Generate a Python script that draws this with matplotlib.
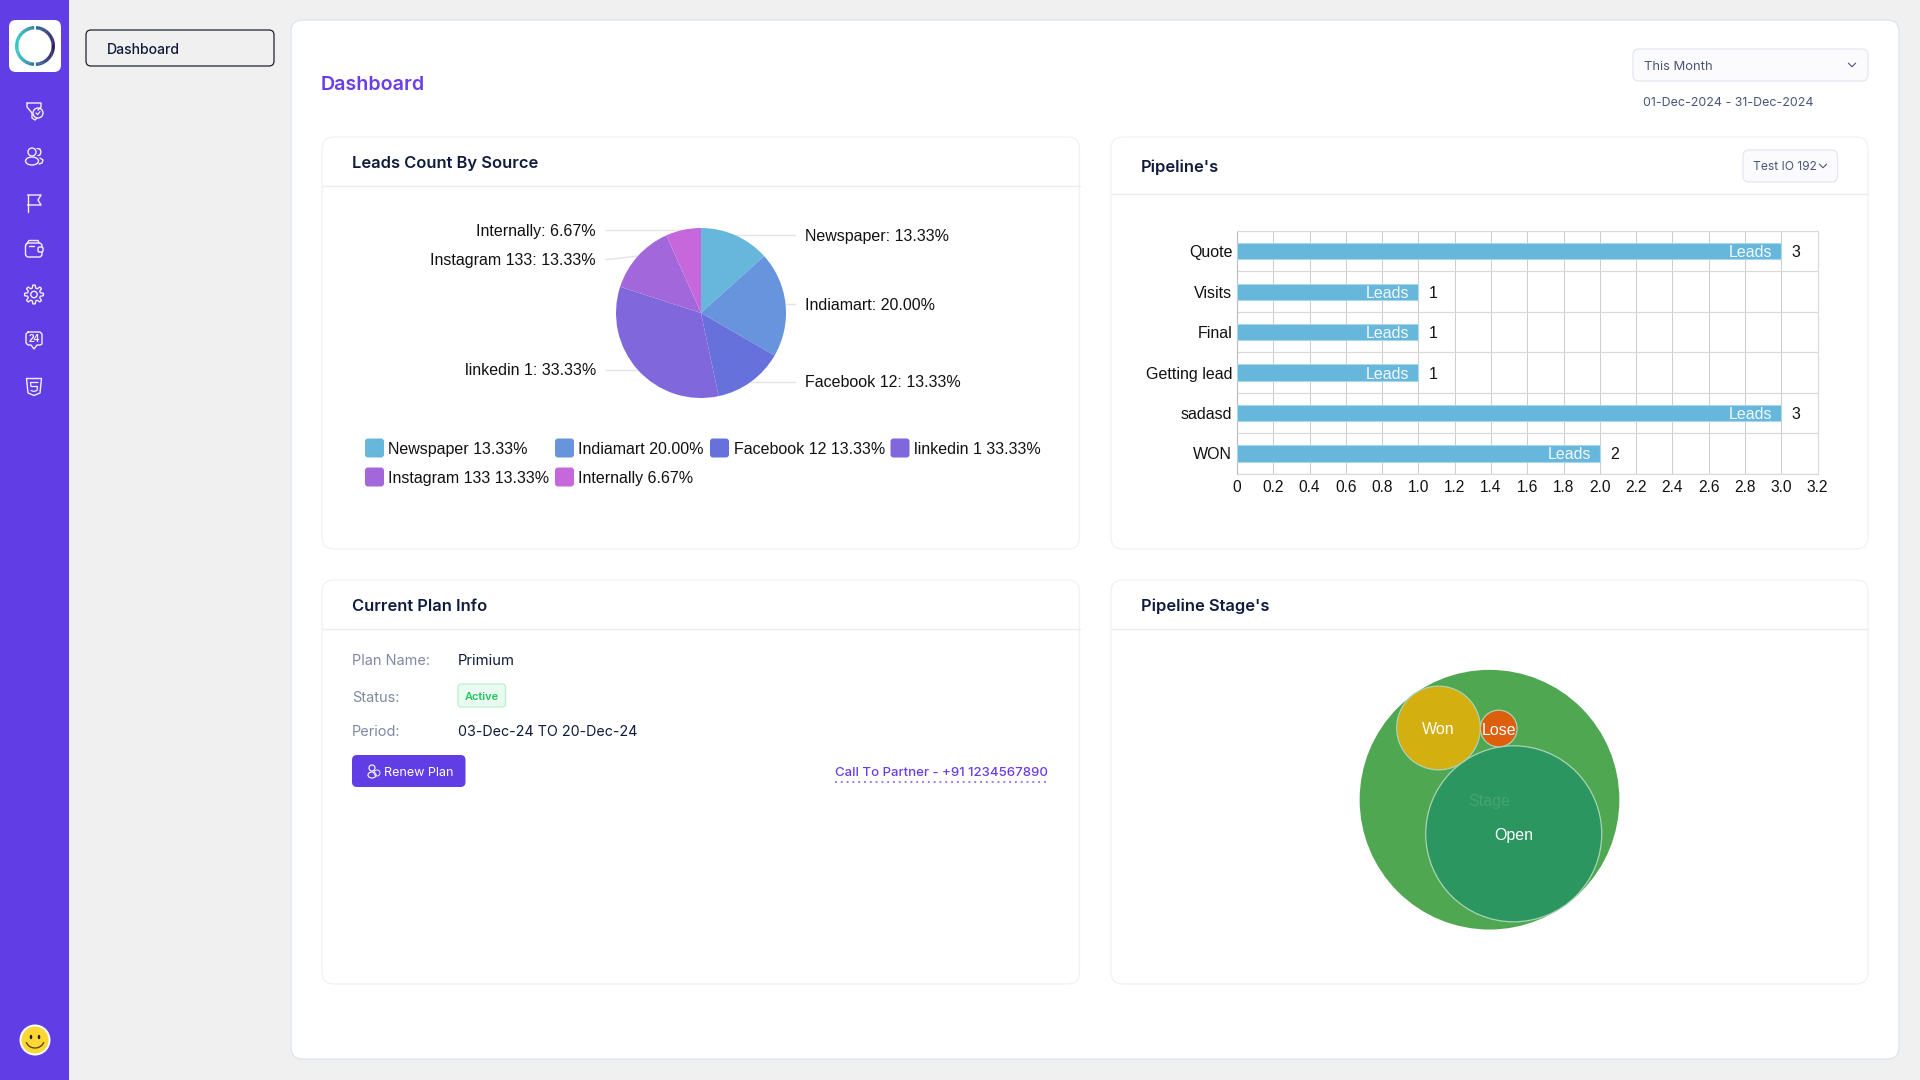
import numpy as np
import matplotlib
matplotlib.use("Agg")
import matplotlib.pyplot as plt
from matplotlib.patches import FancyBboxPatch, Circle, Ellipse

W, H = 1920, 1080

# pie: leads by source
source_names = ["Newspaper", "Indiamart", "Facebook 12", "linkedin 1", "Instagram 133", "Internally"]
source_share = [13.33, 20.00, 13.33, 33.33, 13.33, 6.67]
source_colors = ["#67b7dc", "#6794dc", "#6771dc", "#8067dc", "#a367dc", "#c767dc"]

# bars: pipeline stages
stage_names = ["Quote", "Visits", "Final", "Getting lead", "sadasd", "WON"]
stage_leads = [3, 1, 1, 1, 3, 2]
x_ticks = [0, 0.2, 0.4, 0.6, 0.8, 1.0, 1.2, 1.4, 1.6, 1.8, 2.0, 2.2, 2.4, 2.6, 2.8, 3.0, 3.2]
x_tick_labels = ["0", "0.2", "0.4", "0.6", "0.8", "1.0", "1.2", "1.4", "1.6", "1.8", "2.0",
                 "2.2", "2.4", "2.6", "2.8", "3.0", "3.2"]

# bubbles: pipeline stage sizes, read from the circle areas
bubble_names = ["Open", "Won", "Lose"]
bubble_sizes = [23, 5.2, 1]
bubble_colors = ["#2b9660", "#d4af10", "#dd5f0e"]

PURPLE = "#613de5"
UI_FONT = ["Inter", "DejaVu Sans"]
CHART_FONT = ["Liberation Sans", "DejaVu Sans"]
DARK = "#0f1a3c"


def px(size):
    return size * 0.72


def px_axes(x0, y0, x1, y1):
    a = fig.add_axes([x0 / W, 1 - y1 / H, (x1 - x0) / W, (y1 - y0) / H])
    a.patch.set_alpha(0)
    return a


def box(x0, y0, x1, y1, rad, face, edge="none", lw=1.0, z=1):
    p = FancyBboxPatch((x0 + rad, y0 + rad), x1 - x0 - 2 * rad, y1 - y0 - 2 * rad,
                       boxstyle=f"round,pad={rad},rounding_size={rad}",
                       facecolor=face, edgecolor=edge, linewidth=lw, zorder=z)
    page.add_patch(p)


def ui(x, y, s, size, color=DARK, weight="normal", ha="left"):
    page.text(x, y, s, fontsize=px(size), color=color, fontweight=weight, ha=ha,
              va="center_baseline", family=UI_FONT, zorder=5)


def chart_text(a, x, y, s, color="#111111", ha="left", size=16):
    a.text(x, y, s, fontsize=px(size), color=color, ha=ha, va="center_baseline",
           family=CHART_FONT, zorder=5)


def card(x0, y0, x1, y1, divider, title, title_y):
    box(x0, y0, x1, y1, 12, "white", "#f0f1f4", 0.9, z=2)
    page.plot([x0, x1], [divider, divider], color="#eeeeef", lw=0.9, zorder=3)
    ui(x0 + 30, title_y, title, 16.5, weight="semibold")


def chevron(x, y, size, color):
    page.plot([x - size, x, x + size], [y - size / 2, y + size / 2, y - size / 2],
              color=color, lw=0.8, zorder=5)


def stroke(xs, ys, lw=1.0, closed=False):
    if closed:
        xs = list(xs) + [xs[0]]
        ys = list(ys) + [ys[0]]
    page.plot(xs, ys, color="#f1eefd", lw=lw, zorder=4, solid_joinstyle="round", solid_capstyle="round")


def ring(x, y, r, rx=None, lw=1.0):
    page.add_patch(Ellipse((x, y), 2 * (rx or r), 2 * r, fill=False, edgecolor="#f1eefd", lw=lw, zorder=4))


def draw_sidebar():
    page.add_patch(plt.Rectangle((0, 0), 69, H, facecolor=PURPLE, zorder=1))
    box(9, 20, 61, 72, 7, "white", z=2)
    # logo ring, gradient runs left to right
    teal = np.array(matplotlib.colors.to_rgb("#2ec7c4"))
    navy = np.array(matplotlib.colors.to_rgb("#2b1a6c"))
    for deg in np.arange(0, 360, 3):
        if abs((deg + 1.5) % 180 - 90) < 3:
            continue
        th = np.radians([deg, deg + 3.5])
        t = (np.cos(th[0]) + 1) / 2
        page.plot(35 + 18.3 * np.cos(th), 46 + 18.3 * np.sin(th), color=teal + (navy - teal) * t,
                  lw=2.4, solid_capstyle="butt", zorder=3)

    # funnel
    stroke([27, 41, 41, 38], [103, 103, 107, 110])
    stroke([27, 27, 32, 32, 35, 37], [103, 107, 113, 118, 120, 118])
    ring(38, 113, 5)
    stroke([36, 37.6, 40], [113, 114.6, 111.6], lw=0.9)
    # users
    ring(32, 152, 4)
    ring(32, 161, 4, rx=6.5)
    stroke([37, 40, 41, 40, 38], [148.5, 149, 152, 155, 155.5])
    stroke([40, 43, 42, 39], [158, 160, 163, 164])
    # flag
    stroke([27.5, 27.5], [195, 212])
    stroke([27.5, 41, 38, 41, 27.5], [195, 195, 200, 205, 205])
    # wallet
    box(25.5, 243, 42, 257, 3, "none", "#f1eefd", 1.0, z=4)
    stroke([26, 29, 38, 39], [245, 240.5, 240.5, 243])
    stroke([29, 34], [246, 246])
    box(38, 247, 43, 252, 1.5, PURPLE, "#f1eefd", 1.0, z=4)
    # gear
    th = np.radians(np.arange(0, 360, 7.5))
    gr = 8 + 1.5 * np.tanh(3 * np.cos(8 * th))
    stroke(34 + gr * np.cos(th), 294.5 + gr * np.sin(th), closed=True)
    ring(34, 294.5, 3.2)
    # 24 support
    stroke([28, 40, 42, 42, 40, 37, 34, 31, 28, 26, 26],
           [332, 332, 334, 344, 345, 345, 349, 345, 345, 343, 334], closed=True)
    page.text(34, 339.5, "24", fontsize=px(10), color="#f1eefd", fontweight="bold", ha="center",
              va="center", family=CHART_FONT, zorder=5)
    # html5 shield
    stroke([26.5, 41.5, 40, 34, 28], [378.5, 378.5, 393, 395.5, 393], closed=True)
    stroke([38, 30.5, 31, 37.5, 37, 34, 31], [382.5, 382.5, 386.5, 386.5, 390.5, 391.5, 390.5], lw=0.9)

    # smiley
    page.add_patch(Circle((35, 1040), 15.5, facecolor="white", zorder=3))
    page.add_patch(Circle((35, 1040), 13.5, facecolor="#fdd835", zorder=4))
    for ex in (31, 39):
        page.add_patch(Ellipse((ex, 1037), 2.6, 4.4, facecolor="#222222", zorder=5))
    th = np.radians(np.linspace(20, 160, 30))
    page.plot(35 + 9 * np.cos(th), 1040 + 8 * np.sin(th), color="#5b4a10", lw=1, zorder=5)


def draw_pie():
    card(322, 137, 1079.5, 549, 186, "Leads Count By Source", 162)
    cx, cy, r = 701, 313, 85
    pie_ax = px_axes(cx - r - 1, cy - r - 1, cx + r + 1, cy + r + 1)
    pie_ax.set_zorder(3)
    pie_ax.pie(source_share, colors=source_colors, startangle=90, counterclock=False, radius=1,
               wedgeprops={"linewidth": 0})
    pie_ax.set_xlim(-(r + 1) / r, (r + 1) / r)
    pie_ax.set_ylim(-(r + 1) / r, (r + 1) / r)

    # leaders start at the middle of each slice
    total = sum(source_share)
    mids = (np.cumsum(source_share) - np.array(source_share) / 2) / total * 2 * np.pi
    line_nudge = [0, 0, 0, 0, 3.5, 0]
    text_nudge = [0, 0, -1, -1, 2.5, 0]
    for name, share, mid, dy, ty in zip(source_names, source_share, mids, line_nudge, text_nudge):
        x = cx + r * np.sin(mid)
        y = cy - r * np.cos(mid)
        label = f"{name}: {share:.2f}%"
        if np.sin(mid) > 0:
            page.plot([x, 795], [y, y], color="#e4e4e4", lw=1, zorder=3)
            chart_text(page, 805, y + ty, label)
        else:
            page.plot([x, 606], [y, y + dy], color="#e4e4e4", lw=1, zorder=3)
            chart_text(page, 596, y + ty, label, ha="right")

    swatch_x = [365, 555, 710, 890.5, 365, 555]
    swatch_y = [448, 448, 448, 448, 477, 477]
    for name, share, color, sx, sy in zip(source_names, source_share, source_colors, swatch_x, swatch_y):
        box(sx, sy - 9.5, sx + 19, sy + 9.5, 3, color, z=3)
        chart_text(page, sx + 23.5, sy, f"{name} {share:.2f}%")


def draw_bars():
    card(1111, 137, 1868, 549, 194, "Pipeline's", 166)
    box(1743, 150, 1837.5, 182, 6, "#fbfbfd", "#e4e7f0", 0.9, z=3)
    ui(1753, 166, "Test IO 192", 12, color="#4a5578")
    chevron(1823, 166, 3.5, "#4a5578")

    bar_ax = px_axes(1237, 231, 1817.5, 473.7)
    bar_ax.set_zorder(3)
    y = np.arange(len(stage_names))
    bar_ax.barh(y, stage_leads, height=0.4, color="#67b7dc", edgecolor="#a9d6ec", linewidth=0.8, zorder=3)
    bar_ax.set_xlim(0, 3.2)
    bar_ax.set_ylim(len(stage_names) - 0.5, -0.5)
    bar_ax.set_xticks(x_ticks)
    bar_ax.set_xticklabels(x_tick_labels, family=CHART_FONT, fontsize=px(15.5), color="#111111")
    bar_ax.set_yticks(y)
    bar_ax.set_yticklabels(stage_names, family=CHART_FONT, fontsize=px(16), color="#111111")
    bar_ax.set_yticks(np.arange(len(stage_names) + 1) - 0.5, minor=True)
    bar_ax.tick_params(which="both", length=0)
    bar_ax.tick_params(axis="x", pad=4.2)
    bar_ax.tick_params(axis="y", pad=3.4)
    bar_ax.grid(axis="x", which="major", color="#c4c4c4", lw=0.6, zorder=0)
    bar_ax.grid(axis="y", which="minor", color="#d9d9d9", lw=0.9, zorder=0)
    for side in bar_ax.spines.values():
        side.set_color("#d9d9d9")
    bar_ax.spines["left"].set_color("#bbbbbb")
    for i, value in zip(y, stage_leads):
        bar_ax.annotate("Leads", (value, i), xytext=(-6.4, 0), textcoords="offset points", color="#f2f9fc",
                        ha="right", va="center_baseline", fontsize=px(16), family=CHART_FONT, zorder=5)
        bar_ax.annotate(str(value), (value, i), xytext=(10.5, 0), textcoords="offset points", color="#111111",
                        ha="center", va="center_baseline", fontsize=px(16), family=CHART_FONT, zorder=5)


def draw_plan():
    card(322, 580, 1079.5, 984, 629, "Current Plan Info", 605)
    for label, row_y in zip(["Plan Name:", "Status:", "Period:"], [659.5, 696, 731]):
        ui(352, row_y, label, 14.5, color="#7f89a3")
    ui(458, 659.5, "Primium", 14.8)
    ui(458, 731, "03-Dec-24 TO 20-Dec-24", 14.3)
    box(458, 684, 505.5, 707, 3, "#e9fbf0", "#bdf0d0", 0.9, z=3)
    ui(482, 696, "Active", 11, color="#22c55e", weight="semibold", ha="center")
    box(352, 755, 465.5, 787, 5, PURPLE, z=3)
    ring(372, 768, 3, lw=0.9)
    ring(372, 775, 3, rx=4, lw=0.9)
    ring(377, 773, 3, lw=0.7)
    ui(384, 771, "Renew Plan", 12.6, color="white")
    ui(835, 771, "Call To Partner - +91 1234567890", 13.2, color="#6a3de8", weight="medium")
    page.plot([835, 1049], [781.5, 781.5], color="#7a52ec", lw=1.1, ls=(0, (1.2, 2.6)), zorder=4)


def draw_bubbles():
    card(1111, 580, 1868, 984, 629, "Pipeline Stage's", 605)
    scale = 18.35  # px per sqrt(size)
    r_open, r_won, r_lose = scale * np.sqrt(np.array(bubble_sizes))
    big = r_open + r_won
    # Won and Open touch the outer circle on opposite sides, Lose sits in the notch
    u = np.array([0.579, -0.815])
    n = np.array([0.815, 0.579])
    won = -(big - r_won) * u
    opn = (big - r_open) * u
    d_wo, d_wl, d_ol = r_won + r_open, r_won + r_lose, r_open + r_lose
    a = (d_wl ** 2 - d_ol ** 2 + d_wo ** 2) / (2 * d_wo)
    lose = won + a * u + np.sqrt(d_wl ** 2 - a ** 2) * n

    half = 135
    cx, cy = 1489.5, 799.7
    b_ax = px_axes(cx - half, cy - half, cx + half, cy + half)
    b_ax.set_zorder(3)
    b_ax.set_xlim(-half, half)
    b_ax.set_ylim(-half, half)
    b_ax.axis("off")
    b_ax.add_patch(Circle((0, 0), big, facecolor="#4fa752", edgecolor="none"))
    centers = [opn, won, lose]
    radii = [r_open, r_won, r_lose]
    for name, center, rad, color in zip(bubble_names, centers, radii, bubble_colors):
        b_ax.add_patch(Circle(center, rad, facecolor=color, edgecolor="#a9d3b5", lw=0.9))
        chart_text(b_ax, center[0], center[1], name, color="white", ha="center", size=16)
    chart_text(b_ax, 0, 0, "Stage", color="#46a272", ha="center", size=16)


fig = plt.figure(figsize=(W / 100, H / 100), dpi=100, facecolor="#f0f0f1")
page = fig.add_axes([0, 0, 1, 1])
page.set_xlim(0, W)
page.set_ylim(H, 0)
page.axis("off")

draw_sidebar()

box(86, 30, 274, 66, 5, "none", "#20222e", 0.9, z=2)
ui(107, 48.5, "Dashboard", 14, weight="medium")

box(291, 20, 1899, 1059, 12, "white", "#dfe4ee", 0.9, z=1)
ui(321, 83.5, "Dashboard", 19.6, color="#6a3de8", weight="semibold")
box(1633, 49, 1868, 81, 6, "#fbfbfd", "#e4e7f0", 0.9, z=3)
ui(1644, 65.5, "This Month", 13, color="#4a5578")
chevron(1852, 65, 3.5, "#4a5578")
ui(1643, 102, "01-Dec-2024 - 31-Dec-2024", 12.4, color="#4a5578")

draw_pie()
draw_bars()
draw_plan()
draw_bubbles()

fig.savefig("out.png", dpi=100, facecolor=fig.get_facecolor())
